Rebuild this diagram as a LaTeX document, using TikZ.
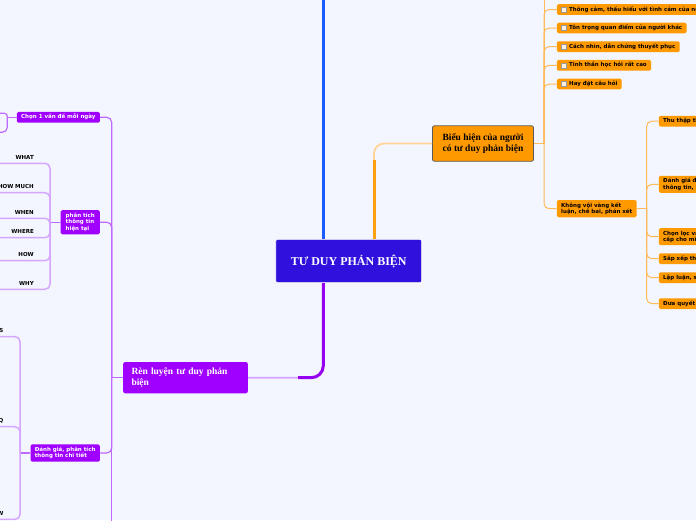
\documentclass[tikz,border=0pt]{standalone}
\usepackage{fontspec}
\setmainfont{Liberation Serif}
\newfontfamily\dvs{DejaVu Sans}
\usetikzlibrary{calc}
\definecolor{bgc}{RGB}{243,246,254}
\definecolor{cnode}{RGB}{48,16,220}
\definecolor{bluel}{RGB}{26,92,255}
\definecolor{orB}{RGB}{255,153,0}
\definecolor{orL}{RGB}{255,212,150}
\definecolor{orM}{RGB}{255,186,90}
\definecolor{orS}{RGB}{255,160,20}
\definecolor{puB}{RGB}{160,0,255}
\definecolor{puL}{RGB}{214,165,255}
\definecolor{puM}{RGB}{190,105,255}
\definecolor{puS}{RGB}{150,0,240}
\tikzset{
  cen/.style={fill=cnode, draw=white, line width=0.6pt, rounded corners=2pt, text=white,
    font=\bfseries\fontsize{12}{14}\selectfont, minimum width=146, minimum height=43.4, inner sep=0},
  bhbox/.style={fill=orB, draw=black!65, line width=0.8pt, rounded corners=2pt,
    font=\bfseries\fontsize{9.5}{10.7}\selectfont, align=center, minimum width=101, minimum height=35.5, inner sep=0},
  rlbox/.style={fill=puB, rounded corners=2pt, text=white, font=\bfseries\fontsize{9.5}{10.5}\selectfont,
    align=left, text width=108, minimum height=31.3, inner xsep=8.3, inner ysep=0},
  sm/.style={font=\dvs\bfseries\fontsize{5.5}{6.5}\selectfont, rounded corners=1.5pt, inner xsep=4.3,
    inner ysep=0, minimum height=10.8, text height=4.3, text depth=1.3},
  obox/.style={sm, fill=orB, text=black},
  pbox/.style={sm, fill=puB, text=white},
  mbox/.style={font=\dvs\bfseries\fontsize{5.5}{6.5}\selectfont, rounded corners=1.5pt, inner xsep=4.3,
    inner ysep=1, align=left},
  leaf/.style={font=\dvs\bfseries\fontsize{5.5}{6.5}\selectfont, text width=44, align=right,
    inner xsep=2, inner ysep=3.6, text depth=0, anchor=south east},
  chk/.style={draw=black!40, fill=white!88!orange, line width=0.3pt, minimum size=5, inner sep=0},
  ocon/.style={draw=orM, line width=1, rounded corners=5},
  pcon/.style={draw=puM, line width=1.2, rounded corners=5},
  lcon/.style={draw=puL, line width=1.5, rounded corners=5},
}
\begin{document}
\begin{tikzpicture}[x=1pt,y=-1pt]
\useasboundingbox (0,0) rectangle (696,520);
\fill[bgc] (0,0) rectangle (696,520);
\clip (0,0) rectangle (696,520);

% central node
\node[cen] (c) at (348.7,261) {TƯ DUY PHẢN BIỆN};

% first-level nodes
\node[bhbox] (bh) at (483,143.5) {Biểu hiện của người\\có tư duy phản biện};
\node[rlbox] (rl) at (185.5,377.7) {Rèn luyện tư duy phản\\biện};

% right: orange children with checkboxes
\node[obox, anchor=west] (o1) at (556.7,9.5) {\hspace*{8pt}Thông cảm, thấu hiểu với tình cảm của người khác};
\node[obox, anchor=west] (o2) at (556.7,28) {\hspace*{8pt}Tôn trọng quan điểm của người khác};
\node[obox, anchor=west] (o3) at (556.7,46.7) {\hspace*{8pt}Cách nhìn, dẫn chứng thuyết phục};
\node[obox, anchor=west] (o4) at (556.7,65.3) {\hspace*{8pt}Tinh thần học hỏi rất cao};
\node[obox, anchor=west] (o5) at (556.7,84) {\hspace*{8pt}Hay đặt câu hỏi};
\foreach \n in {o1,o2,o3,o4,o5}{
  \node[chk] (\n c) at ([xshift=6.9]\n.west) {};
}
\node[mbox, fill=orB, anchor=west, minimum height=17.3] (kv) at (556.7,208.7) {Không vội vàng kết\\luận, chê bai, phán xét};

% right: children of kv
\node[obox, anchor=west] (k1) at (658.7,121.2) {Thu thập thông tin};
\node[mbox, fill=orB, anchor=west, minimum height=17] (k2) at (658.7,184.3) {Đánh giá độ tin cậy của\\thông tin, kiến thức};
\node[mbox, fill=orB, anchor=west, minimum height=17] (k3) at (658.7,236.7) {Chọn lọc và tiếp nhận thông tin được cung\\cấp cho mình};
\node[obox, anchor=west] (k4) at (658.7,258.7) {Sắp xếp thông tin};
\node[obox, anchor=west] (k5) at (658.7,277.7) {Lập luận, suy luận};
\node[obox, anchor=west] (k6) at (658.7,303.7) {Đưa quyết định};

% left: purple children
\node[pbox, anchor=east] (p1) at (100,117.3) {Chọn 1 vấn đề mỗi ngày};
\node[mbox, fill=puB, text=white, anchor=east, minimum height=24.3, inner xsep=5,
  font=\dvs\bfseries\fontsize{5.5}{6.3}\selectfont] (p2) at (100,222.2) {phân tích\\thông tin\\hiện tại};
\node[mbox, fill=puB, text=white, anchor=east, minimum height=17.4,
  font=\dvs\bfseries\fontsize{5.5}{6.1}\selectfont] (p3) at (100,453) {Đánh giá, phân tích\\thông tin chi tiết};

% left: leaves
\node[leaf] (l1) at (36,163.3) {WHAT};
\node[leaf] (l2) at (36,192.7) {HOW MUCH};
\node[leaf] (l3) at (36,218.3) {WHEN};
\node[leaf] (l4) at (36,237.7) {WHERE};
\node[leaf] (l5) at (36,260.7) {HOW};
\node[leaf] (l6) at (36,289.3) {WHY};
\node[leaf] (m1) at (5.6,336.7) {5 WHYS};
\node[leaf] (m2) at (5.6,426.7) {FAQ};
\node[leaf] (m3) at (5.6,519.3) {REVIEW};

% coordinates
\coordinate (topb) at (323.3,-5);
\coordinate (oa) at (374,160);
\coordinate (pa) at (298,377.7);
\coordinate (j1) at (544,143.5);
\coordinate (otop) at (544,-5);
\coordinate (j2) at (646.7,208.7);
\coordinate (j3) at (111.7,377.7);
\coordinate (pbot) at (111.7,530);
\coordinate (j4) at (50,222.2);
\coordinate (j5) at (20,453);
\coordinate (j6) at (7.3,117.3);
\coordinate (e1) at (-5,113.3);
\coordinate (e2) at (-5,132.3);

% main connectors
\draw[bluel, line width=3] ([xshift=-25.4]c.north) -- (topb);
\draw[orL, line width=1.8, rounded corners=10] ([xshift=25.3]c.north) |- (bh.west);
\draw[orS, line width=3] ([xshift=25.3]c.north) -- (oa);
\draw[puL, line width=1.8, rounded corners=12] ([xshift=-25.4]c.south) |- (rl.east);
\draw[puS, line width=3, rounded corners=12] ([xshift=-25.4]c.south) |- (pa);

% right tree
\draw[ocon] (bh.east) -- (j1);
\draw[ocon] (j1) -- (otop);
\foreach \n in {o1,o2,o3,o4,o5,kv}{
  \draw[ocon] (j1) |- (\n.west);
}
\draw[ocon] (kv.east) -- (j2);
\foreach \n in {k1,k2,k3,k4,k5,k6}{
  \draw[ocon] (j2) |- (\n.west);
}

% left tree
\draw[pcon] (rl.west) -- (j3);
\draw[pcon] (j3) -- (pbot);
\foreach \n in {p1,p2,p3}{
  \draw[pcon] (j3) |- (\n.east);
}
\draw[pcon] (p1.west) -- (j6);
\draw[pcon, rounded corners=3] (j6) |- (e1);
\draw[pcon, rounded corners=5] (j6) |- (e2);
\draw[pcon] (p2.west) -- (j4);
\foreach \n in {l1,l2,l3,l4,l5,l6}{
  \draw[lcon] (j4) |- (\n.south east) -- (\n.south west);
}
\draw[pcon] (p3.west) -- (j5);
\foreach \n in {m1,m2,m3}{
  \draw[lcon] (j5) |- (\n.south east) -- (\n.south west);
}
\end{tikzpicture}
\end{document}
